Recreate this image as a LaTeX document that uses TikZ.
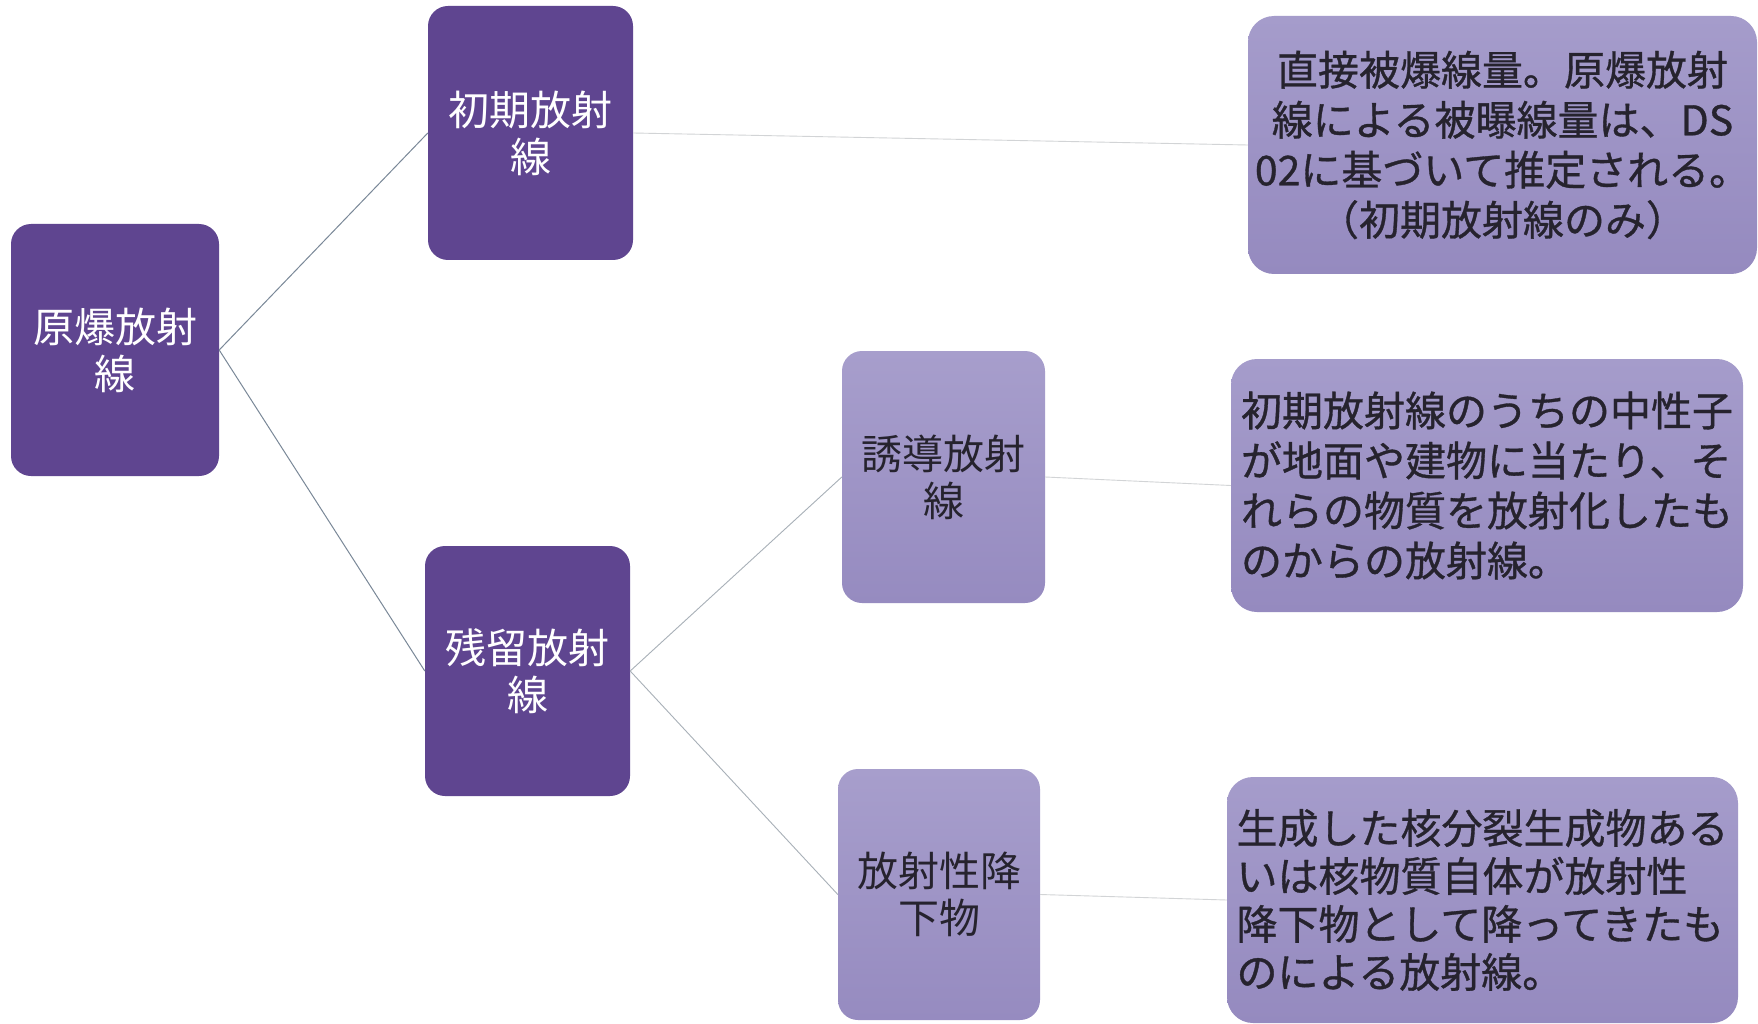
\documentclass[tikz,border=0pt]{standalone}
\usepackage{fontspec}
\newfontfamily\jp{Noto Sans CJK JP}
\newfontfamily\jpb[FakeBold=0.8]{Noto Sans CJK JP}
\definecolor{boxdark}{HTML}{5F4590}
\definecolor{lighttop}{HTML}{A79ECC}
\definecolor{lightbot}{HTML}{968BC0}
\definecolor{desctop}{HTML}{A59CCB}
\definecolor{descbot}{HTML}{958ABF}
\definecolor{textdark}{HTML}{26232E}
\definecolor{linedark}{HTML}{7A8898}
\definecolor{linemid}{HTML}{A8B0B8}
\definecolor{linelight}{HTML}{D2D4D6}
\begin{document}
\begin{tikzpicture}[x=1pt,y=-1pt,
  dark/.style={rounded corners=20pt, fill=boxdark, text=white,
    font=\jp\fontsize{41}{47}\selectfont, align=center, inner sep=0pt},
  light/.style={rounded corners=20pt, top color=lighttop, bottom color=lightbot,
    text=textdark, font=\jp\fontsize{41}{47}\selectfont, align=center, inner sep=0pt},
  desc/.style={rounded corners=26pt, top color=desctop, bottom color=descbot,
    text=textdark, inner sep=0pt},
  desctext/.style={font=\jpb\fontsize{41}{50}\selectfont},
  linkA/.style={line width=1pt, draw=linedark},
  linkB/.style={line width=0.9pt, draw=linemid},
  linkC/.style={line width=0.9pt, draw=linelight}
]
\useasboundingbox[fill=white] (0,0) rectangle (1758,1024);

\node[dark, minimum width=208pt, minimum height=252pt] (root) at (115,350) {原爆放射\\線};
\node[dark, minimum width=205pt, minimum height=254pt] (a1) at (530.5,133) {初期放射\\線};
\node[dark, minimum width=205pt, minimum height=250pt] (a2) at (527.5,671) {残留放射\\線};
\node[light, minimum width=203pt, minimum height=252pt] (b1) at (943.5,477) {誘導放射\\線};
\node[light, minimum width=202pt, minimum height=251pt] (b2) at (939,894.5) {放射性降\\下物};

\node[desc, minimum width=509pt, minimum height=258pt, align=center, desctext] (d1) at (1502.5,145)
  {直接被爆線量。原爆放射\\線による被曝線量は、DS\\02に基づいて推定される。\\（初期放射線のみ）};
\node[desc, minimum width=512pt, minimum height=253pt, align=left, desctext] (d2) at (1487,485.5)
  {初期放射線のうちの中性子\\が地面や建物に当たり、そ\\れらの物質を放射化したも\\のからの放射線。};
\node[desc, minimum width=511pt, minimum height=246pt, align=left,
  font=\jpb\fontsize{41}{48}\selectfont] (d3) at (1482.5,900)
  {生成した核分裂生成物ある\\いは核物質自体が放射性\\降下物として降ってきたも\\のによる放射線。};

\draw[linkA] (root.east) -- (a1.west);
\draw[linkA] (root.east) -- (a2.west);
\draw[linkB] (a2.east) -- (b1.west);
\draw[linkB] (a2.east) -- (b2.west);
\draw[linkC] (a1.east) -- (d1.west);
\draw[linkC] (b1.east) -- (d2.west);
\draw[linkC] (b2.east) -- (d3.west);
\end{tikzpicture}
\end{document}
